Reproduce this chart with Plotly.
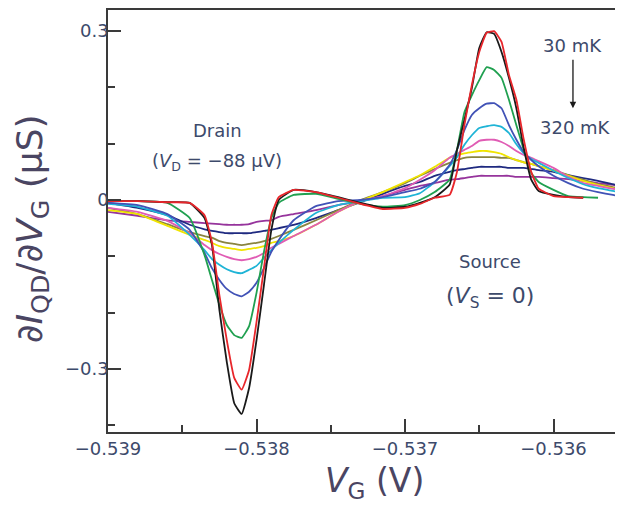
import plotly.graph_objects as go

# Gate voltage grid (V)
vg = [-0.53900, -0.53880, -0.53860, -0.53845, -0.53835, -0.53830, -0.53825, -0.53820,
      -0.53815, -0.53810, -0.53805, -0.53800, -0.53795, -0.53790, -0.53785, -0.53775,
      -0.53760, -0.53745, -0.53730, -0.53715, -0.53700, -0.53690, -0.53680, -0.53670,
      -0.53665, -0.53660, -0.53655, -0.53650, -0.53645, -0.53640, -0.53635, -0.53630,
      -0.53625, -0.53620, -0.53615, -0.53610, -0.53600, -0.53590, -0.53580, -0.53570,
      -0.53560, -0.53553]

# dI/dVG (uS) for each temperature, 30 mK -> 320 mK
g_black = [-0.002, -0.002, -0.004, -0.005, -0.032, -0.080, -0.195, -0.288, -0.361, -0.380,
           -0.334, -0.249, -0.151, -0.053, 0.000, 0.018, 0.014, 0.005, -0.005, -0.014,
           -0.012, -0.005, 0.005, 0.027, 0.089, 0.142, 0.199, 0.270, 0.298, 0.295,
           0.263, 0.217, 0.163, 0.092, 0.036, 0.016, 0.009, 0.005, 0.004, None, None, None]
g_red = [-0.002, -0.002, -0.004, -0.005, -0.027, -0.075, -0.169, -0.249, -0.316, -0.337,
         -0.302, -0.217, -0.121, -0.027, 0.005, 0.018, 0.014, 0.004, -0.007, -0.016,
         -0.014, -0.007, 0.004, 0.009, 0.050, 0.133, 0.204, 0.263, 0.297, 0.300,
         0.281, 0.222, 0.178, 0.107, 0.050, 0.020, 0.007, 0.005, 0.004, None, None, None]
g_green = [-0.002, -0.002, -0.005, -0.032, -0.098, -0.142, -0.186, -0.222, -0.240, -0.245,
           -0.224, -0.165, -0.092, -0.032, -0.005, 0.009, 0.011, 0.002, -0.007, -0.012,
           -0.009, 0.000, 0.014, 0.036, 0.089, 0.156, 0.186, 0.213, 0.236, 0.231,
           0.217, 0.178, 0.133, 0.089, 0.048, 0.032, 0.018, 0.007, 0.005, 0.004, None, None]
g_blue = [-0.005, -0.009, -0.025, -0.053, -0.094, -0.121, -0.142, -0.158, -0.167, -0.171,
          -0.163, -0.147, -0.121, -0.092, -0.071, -0.036, -0.011, -0.002, 0.000, 0.005,
          0.014, 0.020, 0.032, 0.062, 0.089, 0.124, 0.151, 0.163, 0.171, 0.172,
          0.163, 0.133, 0.107, 0.085, 0.071, 0.060, 0.043, 0.030, 0.020, 0.014, 0.009, 0.005]
g_cyan = [-0.007, -0.012, -0.028, -0.062, -0.089, -0.105, -0.115, -0.123, -0.128, -0.130,
          -0.124, -0.117, -0.103, -0.089, -0.076, -0.053, -0.023, -0.009, -0.002, 0.004,
          0.005, 0.012, 0.032, 0.060, 0.076, 0.098, 0.115, 0.128, 0.131, 0.133,
          0.130, 0.119, 0.099, 0.083, 0.073, 0.066, 0.052, 0.039, 0.028, 0.021, 0.016, 0.012]
g_pink = [-0.014, -0.021, -0.037, -0.059, -0.080, -0.089, -0.096, -0.101, -0.105, -0.107,
          -0.105, -0.101, -0.094, -0.085, -0.078, -0.064, -0.044, -0.021, -0.002, 0.007,
          0.021, 0.036, 0.053, 0.075, 0.082, 0.089, 0.096, 0.105, 0.107, 0.107,
          0.103, 0.096, 0.087, 0.080, 0.075, 0.069, 0.057, 0.041, 0.030, 0.025, 0.020, 0.018]
g_yellow = [-0.018, -0.025, -0.046, -0.062, -0.071, -0.076, -0.082, -0.085, -0.087, -0.089,
            -0.087, -0.085, -0.082, -0.076, -0.073, -0.064, -0.044, -0.021, -0.002, 0.014,
            0.032, 0.044, 0.059, 0.075, 0.080, 0.083, 0.085, 0.087, 0.087, 0.085,
            0.082, 0.076, 0.071, 0.067, 0.064, 0.060, 0.052, 0.043, 0.034, 0.027, 0.021, 0.018]
g_olive = [-0.014, -0.025, -0.043, -0.057, -0.064, -0.067, -0.073, -0.076, -0.078, -0.080,
           -0.078, -0.076, -0.073, -0.069, -0.064, -0.053, -0.036, -0.018, 0.000, 0.014,
           0.030, 0.043, 0.055, 0.066, 0.071, 0.075, 0.076, 0.076, 0.076, 0.076,
           0.075, 0.075, 0.071, 0.067, 0.064, 0.060, 0.053, 0.044, 0.036, 0.028, 0.023, 0.020]
g_navy = [-0.005, -0.014, -0.027, -0.044, -0.052, -0.055, -0.057, -0.059, -0.059, -0.059,
          -0.059, -0.057, -0.055, -0.053, -0.050, -0.044, -0.032, -0.018, -0.004, 0.011,
          0.025, 0.032, 0.043, 0.050, 0.053, 0.055, 0.057, 0.059, 0.059, 0.059,
          0.059, 0.057, 0.057, 0.057, 0.055, 0.053, 0.050, 0.044, 0.039, 0.034, 0.028, 0.025]
g_purple = [-0.021, -0.028, -0.036, -0.039, -0.041, -0.042, -0.043, -0.044, -0.044, -0.044,
            -0.043, -0.039, -0.037, -0.036, -0.030, -0.025, -0.018, -0.009, -0.002, 0.007,
            0.018, 0.025, 0.030, 0.036, 0.037, 0.039, 0.041, 0.043, 0.043, 0.043,
            0.043, 0.043, 0.041, 0.041, 0.041, 0.041, 0.039, 0.037, 0.034, 0.030, 0.027, 0.025]

series = [
    ("purple", g_purple, "#96349c"),
    ("navy", g_navy, "#1f2a80"),
    ("olive", g_olive, "#8a8440"),
    ("yellow", g_yellow, "#f0e400"),
    ("pink", g_pink, "#e05cb4"),
    ("cyan", g_cyan, "#1fb4d6"),
    ("blue", g_blue, "#4152b6"),
    ("green", g_green, "#20a050"),
    ("black", g_black, "#1a1a1a"),
    ("red", g_red, "#e8262b"),
]

x_ticks = [-0.539, -0.538, -0.537, -0.536]
x_ticktext = ["\u22120.539", "\u22120.538", "\u22120.537", "\u22120.536"]
y_ticks = [-0.3, 0.0, 0.3]
y_ticktext = ["\u22120.3", "0", "0.3"]

fig = go.Figure()
for name, ys, col in series:
    fig.add_trace(go.Scatter(x=vg, y=ys, mode="lines", name=name,
                             line=dict(color=col, width=1.8, shape="spline", smoothing=0.4),
                             showlegend=False))

axis_col = "#3a3a3a"
FONT = "DejaVu Sans"
tick_font = dict(family=FONT, size=18, color="#3d4a6b")

# page has an 8px body margin, so the figure is sized/margined to compensate
fig.update_layout(
    width=615, height=498,
    margin=dict(l=100, r=0, t=2, b=74),
    paper_bgcolor="white", plot_bgcolor="white",
    xaxis=dict(range=[-0.5390001, -0.535532], showgrid=False, zeroline=False,
               showline=True, linecolor=axis_col, linewidth=1.5, mirror=True,
               tickmode="array", tickvals=x_ticks, ticktext=x_ticktext,
               ticks="inside", ticklen=13, tickwidth=1.5, tickcolor=axis_col,
               tickfont=tick_font,
               minor=dict(tickmode="linear", tick0=-0.539, dtick=0.0005, ticks="inside",
                          ticklen=7, tickwidth=1.5, tickcolor=axis_col)),
    yaxis=dict(range=[-0.4121, 0.3375], showgrid=False, zeroline=False,
               showline=True, linecolor=axis_col, linewidth=1.5,
               tickmode="array", tickvals=y_ticks, ticktext=y_ticktext,
               ticks="inside", ticklen=13, tickwidth=1.5, tickcolor=axis_col,
               tickfont=tick_font, ticklabelstandoff=-6,
               minor=dict(tickmode="linear", tick0=0, dtick=0.1, ticks="inside",
                          ticklen=7, tickwidth=1.5, tickcolor=axis_col)),
)

txt_col = "#3d4a6b"
title_col = "#4a4562"
ann = [
    dict(x=-0.538266, y=0.124, text="Drain", font=dict(size=18)),
    dict(x=-0.538266, y=0.0675, text="(<i>V</i><sub>D</sub> = \u221288 \u03bcV)", font=dict(size=18)),
    dict(x=-0.536428, y=-0.110, text="Source", font=dict(size=18)),
    dict(x=-0.536428, y=-0.174, text="(<i>V</i><sub>S</sub> = 0)", font=dict(size=22)),
    dict(x=-0.535875, y=0.275, text="30 mK", font=dict(size=18)),
    dict(x=-0.535855, y=0.128, text="320 mK", font=dict(size=18)),
]
for a in ann:
    a.update(xref="x", yref="y", showarrow=False, xanchor="center", yanchor="middle")
    a["font"].update(family=FONT, color=txt_col)
    fig.add_annotation(**a)

fig.add_annotation(x=-0.535869, y=0.163, xref="x", yref="y", ax=0, ay=-50,
                   showarrow=True, arrowhead=2, arrowsize=1, arrowwidth=1.3,
                   arrowcolor="#1a1a1a", text="")

fig.add_annotation(xref="paper", yref="paper", x=0.518, y=-0.1185,
                   xanchor="center", yanchor="middle",
                   text="<i>V</i><sub>G</sub> (V)", showarrow=False,
                   font=dict(family=FONT, size=33, color=title_col))
fig.add_annotation(xref="paper", yref="paper", x=-0.1476, y=0.483, textangle=-90,
                   xanchor="center", yanchor="middle",
                   text="\u2202<i>I</i><sub>QD</sub>/\u2202<i>V</i><sub>G</sub> (\u03bcS)",
                   showarrow=False,
                   font=dict(family=FONT, size=36, color=title_col))

fig.write_html("out.html")
